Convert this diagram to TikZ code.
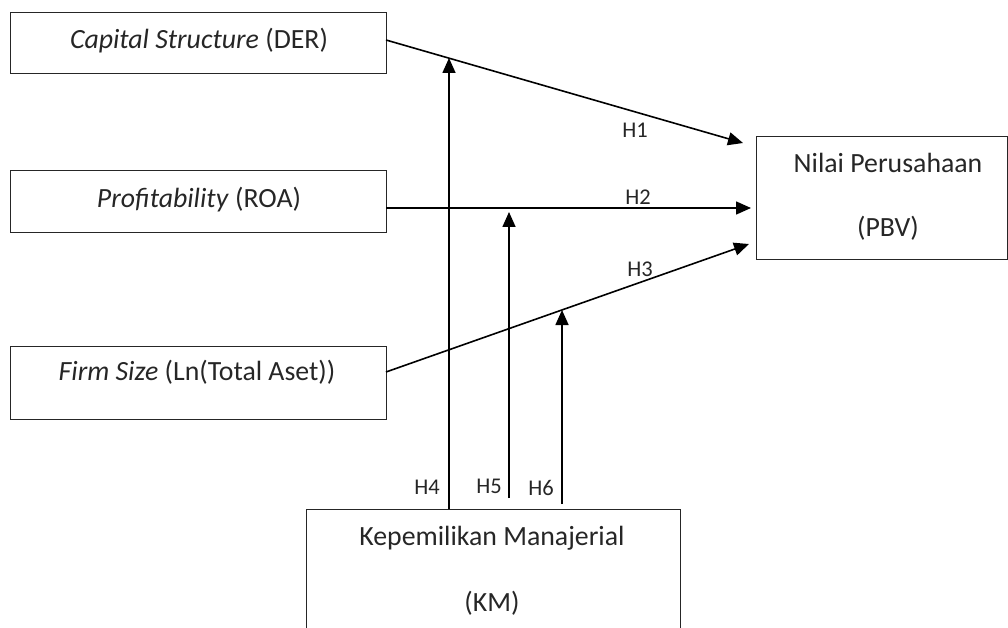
\documentclass[tikz,border=0pt]{standalone}
\usepackage{fontspec}
\setmainfont{Carlito}
\usetikzlibrary{arrows.meta}
\begin{document}
\begin{tikzpicture}[x=1pt,y=-1pt,
  box/.style={draw=black!85,line width=1.3pt,inner sep=0pt,anchor=north west},
  boxtext/.style={font=\fontsize{27.8}{33}\selectfont,text=black!85,inner sep=0pt},
  hlabel/.style={font=\fontsize{22.5}{26}\selectfont,text=black!85,inner sep=0pt},
  conn/.style={line width=1.6pt,-{Triangle[length=15pt,width=13pt]}},
  plain/.style={line width=1.6pt}]
\useasboundingbox (0,0) rectangle (1008,628);
\clip (0,0) rectangle (1008,628);
% boxes
\node[box,minimum width=376pt,minimum height=61pt] (cs) at (10,12) {};
\node[box,minimum width=376pt,minimum height=62pt] (pr) at (10,170) {};
\node[box,minimum width=376pt,minimum height=73pt] (fs) at (10,346) {};
\node[box,minimum width=251pt,minimum height=123pt] (nv) at (756,136) {};
\node[box,minimum width=374pt,minimum height=140pt] (km) at (306,509) {};
% texts
\node[boxtext] (cst) at (199,41) {\textit{Capital Structure} (DER)};
\node[boxtext] (prt) at (199,200) {\textit{Profitability} (ROA)};
\node[boxtext] (fst) at (197,372) {\textit{Firm Size} (Ln(Total Aset))};
\node[boxtext] (nv1) at (888,163) {Nilai Perusahaan};
\node[boxtext] (nv2) at (888,228) {(PBV)};
\node[boxtext] (km1) at (492,538) {Kepemilikan Manajerial};
\node[boxtext] (km2) at (492,603) {(KM)};
% connector endpoints
\coordinate (s1) at (386,40);
\coordinate (e1) at (743,143);
\coordinate (s2) at (386,208);
\coordinate (e2) at (751,208);
\coordinate (s3) at (386,372);
\coordinate (e3) at (749,244);
\coordinate (a4) at (449,509);
\coordinate (b4) at (449,58);
\coordinate (a5) at (509,498);
\coordinate (b5) at (509,212);
\coordinate (a6) at (562,504);
\coordinate (b6) at (562,310);
\draw[conn] (s1) -- (e1);
\draw[conn] (s2) -- (e2);
\draw[conn] (s3) -- (e3);
\draw[conn] (a4) -- (b4);
\draw[conn] (a5) -- (b5);
\draw[conn] (a6) -- (b6);
% labels
\node[hlabel] (h1) at (635,130) {H1};
\node[hlabel] (h2) at (638,197) {H2};
\node[hlabel] (h3) at (640,269) {H3};
\node[hlabel] (h4) at (427,487) {H4};
\node[hlabel] (h5) at (489,486) {H5};
\node[hlabel] (h6) at (541,488) {H6};
\end{tikzpicture}
\end{document}
